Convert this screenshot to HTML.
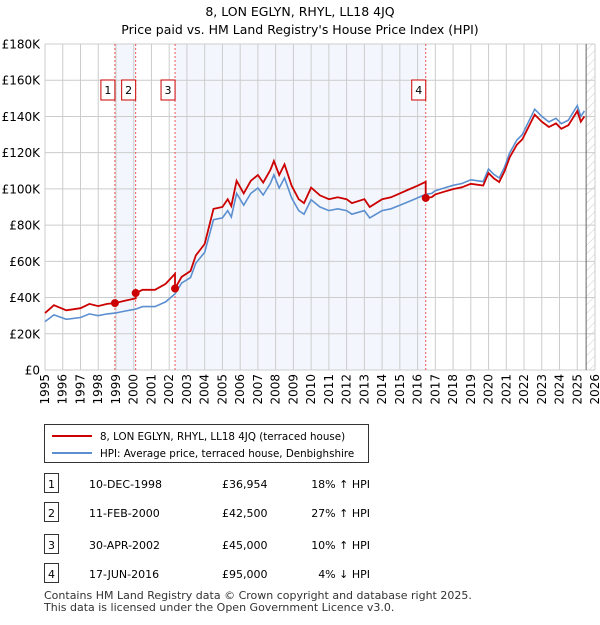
<!DOCTYPE html>
<html><head><meta charset="utf-8"><style>
body{margin:0;background:#fff;font-family:"Liberation Sans","DejaVu Sans",sans-serif;}
svg text{font-family:"DejaVu Sans","Liberation Sans",sans-serif;}
</style></head><body>
<svg id="c" width="600" height="620" viewBox="0 0 600 620">
<defs><pattern id="hatch" width="6" height="6" patternUnits="userSpaceOnUse" patternTransform="rotate(45)"><line x1="0" y1="0" x2="0" y2="6" stroke="#ccc" stroke-width="1"/></pattern></defs>
<text x="300" y="16" text-anchor="middle" font-size="12.5">8, LON EGLYN, RHYL, LL18 4JQ</text>
<text x="300" y="34" text-anchor="middle" font-size="12.5">Price paid vs. HM Land Registry's House Price Index (HPI)</text>
<g id="plot"></g>
<g>
<rect x="44.5" y="424.5" width="324" height="38" fill="#fff" stroke="#333"/>
<line x1="52" y1="436" x2="92" y2="436" stroke="#cc0000" stroke-width="2"/>
<text x="100" y="440" font-size="10.3">8, LON EGLYN, RHYL, LL18 4JQ (terraced house)</text>
<line x1="52" y1="453" x2="92" y2="453" stroke="#5b8fd0" stroke-width="2"/>
<text x="100" y="457" font-size="10.3">HPI: Average price, terraced house, Denbighshire</text>
</g>
<g id="table"></g>
<text x="44" y="599" font-size="11" fill="#333">Contains HM Land Registry data © Crown copyright and database right 2025.</text>
<text x="44" y="611" font-size="11" fill="#333">This data is licensed under the Open Government Licence v3.0.</text>
</svg>
<script>
const hpiT=[1995.0,1995.5,1996.2,1997.0,1997.5,1998.0,1998.5,1998.94,1999.5,2000.11,2000.5,2001.2,2001.8,2002.33,2002.7,2003.2,2003.5,2004.0,2004.5,2005.0,2005.3,2005.5,2005.8,2006.2,2006.6,2007.0,2007.3,2007.7,2007.9,2008.2,2008.5,2008.9,2009.3,2009.6,2010.0,2010.5,2011.0,2011.5,2012.0,2012.3,2013.0,2013.3,2014.0,2014.5,2015.0,2015.5,2016.0,2016.46,2016.8,2017.0,2017.5,2018.0,2018.5,2019.0,2019.7,2020.0,2020.3,2020.6,2020.9,2021.2,2021.6,2021.9,2022.2,2022.6,2023.0,2023.4,2023.8,2024.1,2024.5,2025.0,2025.2,2025.4];
const hpiV=[26.7,30.4,28,29,31,30,31,31.4,32.5,33.6,35,35,37.6,42,48,51,59,65,83,84,88,84.5,97.5,91,97.5,100.5,96.6,103,107.7,100.5,106,95,88,86,94,90,88,89,88,86,88,84,88,89,91,93,95,97,97.5,99,100.5,102,103,105,104,111,108,106,112,120,127,130,136,144,140,137,139,136,138,146,140,143];
const saleLabels=["1","2","3","4"];
const saleT=[1998.94,2000.11,2002.33,2016.46];
const saleP=[36954,42500,45000,95000];
const saleDates=["10-DEC-1998","11-FEB-2000","30-APR-2002","17-JUN-2016"];
const salePrices=["£36,954","£42,500","£45,000","£95,000"];
const saleDiff=["18% ↑ HPI","27% ↑ HPI","10% ↑ HPI","4% ↓ HPI"];
const yTicks=[0,20,40,60,80,100,120,140,160,180];
const yTickLabels=["£0","£20K","£40K","£60K","£80K","£100K","£120K","£140K","£160K","£180K"];
const xYears=[1995,1996,1997,1998,1999,2000,2001,2002,2003,2004,2005,2006,2007,2008,2009,2010,2011,2012,2013,2014,2015,2016,2017,2018,2019,2020,2021,2022,2023,2024,2025,2026];

const L=45,R=595,T=44,B=370;
const X=t=>L+(t-1995)/(2026-1995)*(R-L);
const Y=v=>B-v/180*(B-T);
const NS="http://www.w3.org/2000/svg";
const g=document.getElementById('plot');
function mk(tag,a,p){const e=document.createElementNS(NS,tag);for(const k in a)e.setAttribute(k,a[k]);(p||g).appendChild(e);return e;}
function hpiAt(t){for(let i=0;i<hpiT.length-1;i++){if(t<=hpiT[i+1]){const f=(t-hpiT[i])/(hpiT[i+1]-hpiT[i]);return hpiV[i]+f*(hpiV[i+1]-hpiV[i]);}}return hpiV[hpiV.length-1];}

let e=mk('rect',{x:X(saleT[0]),y:T,width:X(saleT[1])-X(saleT[0]),height:B-T,fill:'#eef3fc',opacity:0.7});


e=mk('rect',{x:X(saleT[2]),y:T,width:X(saleT[3])-X(saleT[2]),height:B-T,fill:'#eef3fc',opacity:0.7});


e=mk('rect',{x:X(2025.5),y:T,width:R-X(2025.5),height:B-T,fill:'url(#hatch)'});


xYears.forEach((yr,i)=>{
  const l=mk('line',{x1:X(yr),x2:X(yr),y1:T,y2:B,stroke:'#cccccc','stroke-width':1});
  
  
  const t=mk('text',{x:X(yr)+4,y:374,'font-size':12,'text-anchor':'end',transform:`rotate(-90 ${X(yr)+4} 374)`});
  
  
  t.textContent=yr;
});
yTicks.forEach((v,i)=>{
  const l=mk('line',{x1:L,x2:R,y1:Y(v),y2:Y(v),stroke:'#cccccc','stroke-width':1});
  
  
  const t=mk('text',{x:40,y:Y(v)+4.5,'font-size':12,'text-anchor':'end'});
  
  
  t.textContent=yTickLabels[i];
});
e=mk('line',{x1:X(2025.5),x2:X(2025.5),y1:T,y2:B,stroke:'#666','stroke-width':1});


saleT.forEach((t,i)=>{
  const l=mk('line',{x1:X(t),x2:X(t),y1:T,y2:B,stroke:'#ee5555','stroke-width':1,'stroke-dasharray':'2,2'});
  
  
  const r=mk('rect',{x:X(t)-14,y:80,width:14,height:20,fill:'#fff',stroke:'#cc0000'});
  
  
  const tx=mk('text',{x:X(t)-7,y:94,'font-size':11,'text-anchor':'middle'});
  
  
  tx.textContent=saleLabels[i];
});
let d='';hpiT.forEach((t,i)=>{d+=(i?'L':'M')+X(t).toFixed(1)+','+Y(hpiV[i]).toFixed(1);});
e=mk('path',{d:d,fill:'none',stroke:'#5b8fd0','stroke-width':1.6});


function seg(t){let k=0;for(let i=0;i<saleT.length;i++)if(t>=saleT[i])k=i;return k;}
d='';let first=true;
hpiT.forEach((t,i)=>{
  const k=seg(t);
  if(k>0&&Math.abs(t-saleT[k])<1e-6){const kp=k-1;const vp=saleP[kp]/1000*hpiV[i]/hpiAt(saleT[kp]);d+='L'+X(t).toFixed(1)+','+Y(vp).toFixed(1);}
  const v=saleP[k]/1000*hpiV[i]/hpiAt(saleT[k]);
  d+=(first?'M':'L')+X(t).toFixed(1)+','+Y(v).toFixed(1);first=false;
});
e=mk('path',{d:d,fill:'none',stroke:'#cc0000','stroke-width':1.8});


saleT.forEach((t,i)=>{
  const c=mk('circle',{cx:X(t),cy:Y(saleP[i]/1000),r:4,fill:'#cc0000'});
  
  
});
const tb=document.getElementById('table');
const rowY=[484,513,545,574];
saleLabels.forEach((s,i)=>{
  const y=rowY[i];
  const r=mk('rect',{x:44.5,y:y-10.5,width:14,height:19,fill:'#fff',stroke:'#333'},tb);
  
  
  const vals=[[s,51.5,'middle'],[saleDates[i],89,'start'],[salePrices[i],222,'start'],[saleDiff[i],370,'end']];
  vals.forEach(v=>{const t=mk('text',{x:v[1],y:y+4,'font-size':11,'text-anchor':v[2]},tb);
    
    
    t.textContent=v[0];});
});
</script>
</body></html>
